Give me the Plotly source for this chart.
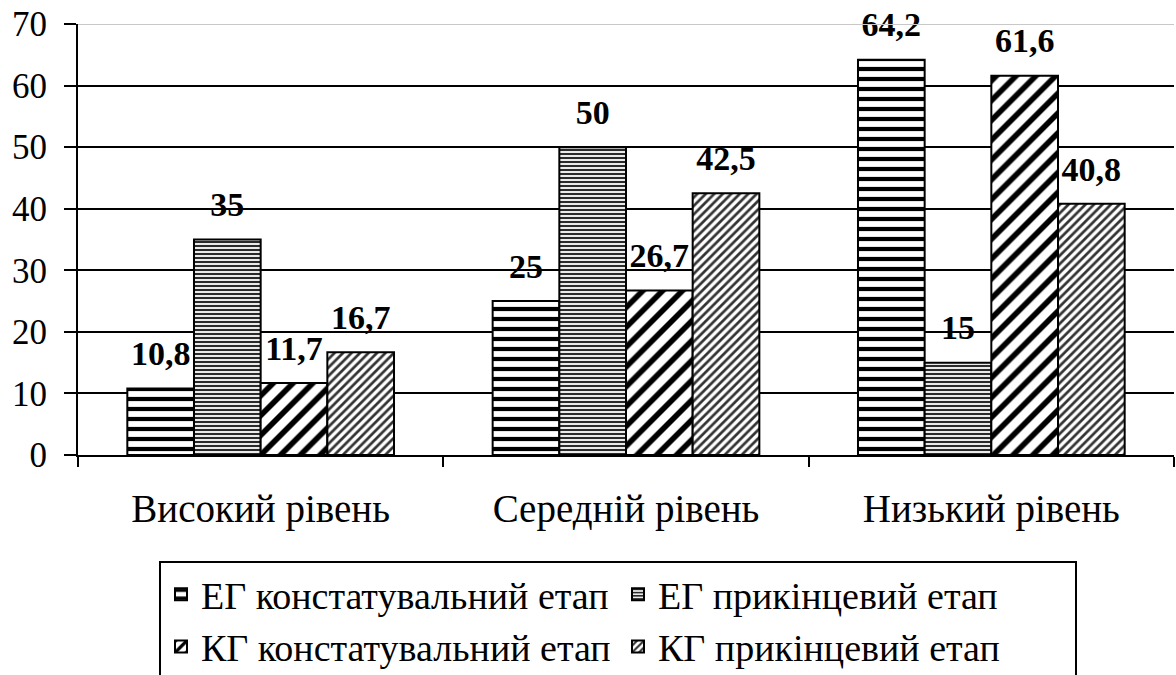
import plotly.graph_objects as go

categories = ["Високий рівень", "Середній рівень", "Низький рівень"]
series_names = [
    "ЕГ констатувальний етап",
    "ЕГ прикінцевий етап",
    "КГ констатувальний етап",
    "КГ прикінцевий етап",
]
eg_const = [10.8, 25, 64.2]
eg_final = [35, 50, 15]
kg_const = [11.7, 26.7, 61.6]
kg_final = [16.7, 42.5, 40.8]
y_ticks = [0, 10, 20, 30, 40, 50, 60, 70]

series_values = [eg_const, eg_final, kg_const, kg_final]
patterns = [
    dict(shape="-", size=10, solidity=0.42, fgcolor="black", bgcolor="white", fillmode="replace"),
    dict(shape="-", size=4, solidity=0.55, fgcolor="#2a2a2a", bgcolor="white", fillmode="replace"),
    dict(shape="/", size=14, solidity=0.4, fgcolor="black", bgcolor="white", fillmode="replace"),
    dict(shape="/", size=6, solidity=0.45, fgcolor="#333333", bgcolor="white", fillmode="replace"),
]

FONT = "Liberation Serif, Times New Roman, serif"
BARGAP = 0.27
W, H = 1176, 675

fig = go.Figure()
for name, vals, pat in zip(series_names, series_values, patterns):
    fig.add_trace(go.Bar(
        x=categories, y=vals, name=name,
        marker=dict(color="white", line=dict(color="black", width=2), pattern=pat),
        hoverinfo="skip",
    ))

fig.add_shape(type="line", xref="paper", yref="y", x0=0, x1=1,
              y0=max(y_ticks), y1=max(y_ticks),
              line=dict(color="#c8c8c8", width=2), layer="above")

for name, vals in zip(series_names, series_values):
    fig.add_trace(go.Scatter(
        x=categories, y=vals, mode="markers+text",
        texttemplate="%{y}", textposition="top center",
        textfont=dict(family=FONT, size=34, color="black", weight="bold"),
        marker=dict(size=22, color="rgba(0,0,0,0)"),
        showlegend=False, hoverinfo="skip", cliponaxis=False,
    ))

fig.update_layout(
    width=W, height=H,
    margin=dict(l=78, r=2, t=24, b=H - 455),
    paper_bgcolor="white", plot_bgcolor="white",
    barmode="group", bargap=BARGAP, bargroupgap=0,
    scattermode="group", scattergap=BARGAP,
    separators=", ",
    font=dict(family=FONT, size=36, color="black"),
    showlegend=True,
    legend=dict(
        orientation="h",
        x=159 / W, y=1 - 561 / H,
        xanchor="left", yanchor="top",
        xref="container", yref="container",
        entrywidth=412, entrywidthmode="pixels",
        bordercolor="black", borderwidth=2,
        font=dict(family=FONT, size=38, color="black"),
        traceorder="normal",
    ),
    xaxis=dict(
        automargin=False,
        showline=True, linecolor="black", linewidth=2,
        ticks="outside", tickson="boundaries", ticklen=10, tickwidth=2, tickcolor="black",
        showgrid=False, ticklabelstandoff=18, ticklabeloverflow="allow",
        tickfont=dict(family=FONT, size=39, color="black"),
    ),
    yaxis=dict(
        automargin=False,
        range=[0, max(y_ticks)], tickvals=y_ticks,
        showline=True, linecolor="black", linewidth=2,
        ticks="outside", ticklen=12, tickwidth=2, tickcolor="black",
        showgrid=True, gridcolor="black", gridwidth=2,
        zeroline=False, ticklabelstandoff=10, ticklabeloverflow="allow",
        tickfont=dict(family=FONT, size=35, color="black"),
    ),
)

fig.write_html(
    "out.html",
    config={"displayModeBar": False},
    post_script="document.body.style.margin='0';document.body.style.overflow='hidden';",
)
